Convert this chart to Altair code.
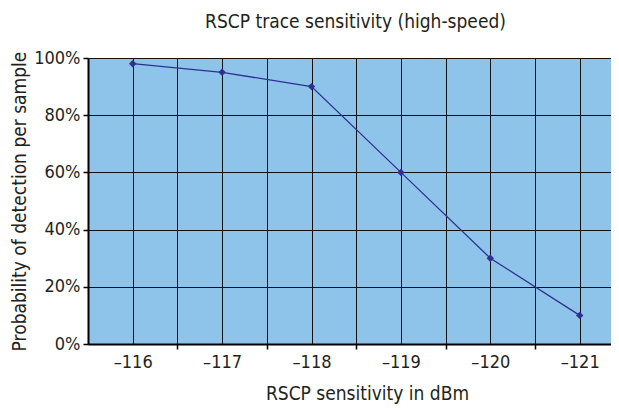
import altair as alt
import pandas as pd

sensitivity = [-116, -117, -118, -119, -120, -121]
probability = [0.98, 0.95, 0.90, 0.60, 0.30, 0.10]
x_grid_values = [-116, -116.5, -117, -117.5, -118, -118.5, -119, -119.5, -120, -120.5, -121]
y_tick_values = [0, 0.2, 0.4, 0.6, 0.8, 1.0]

df = pd.DataFrame({"dBm": sensitivity, "p": probability})

FONT = "DejaVu Sans Condensed, Liberation Sans Narrow, Liberation Sans, sans-serif"
TEXT = "#231F20"
LINE = "#2E3192"

x = alt.X(
    "dBm:Q",
    scale=alt.Scale(domain=[-121.35, -115.5], reverse=True, nice=False, zero=False),
    axis=alt.Axis(
        values=x_grid_values,
        labelExpr="datum.value % 1 == 0 ? '\u2013' + abs(datum.value) : ''",
        tickOpacity={"condition": {"test": "datum.value % 1 != 0", "value": 1}, "value": 0},
        tickSize=5,
        tickColor="black",
        tickWidth=1.5,
        labelPadding=4,
        labelFontSize=18,
        labelFont=FONT,
        labelColor=TEXT,
        labelFlush=False,
        title="RSCP sensitivity in dBm",
        titleFontSize=19,
        titleFont=FONT,
        titleFontWeight="normal",
        titleColor=TEXT,
        titlePadding=13,
        titleX=279,
        grid=True,
        gridColor="#111111",
        gridWidth=1,
        domainColor="black",
        domainWidth=2,
    ),
)

y = alt.Y(
    "p:Q",
    scale=alt.Scale(domain=[0, 1], nice=False),
    axis=alt.Axis(
        values=y_tick_values,
        format=".0%",
        tickSize=5,
        tickColor="black",
        tickWidth=1.5,
        labelPadding=3,
        labelFontSize=18,
        labelFont=FONT,
        labelColor=TEXT,
        title="Probability of detection per sample",
        titleFontSize=19,
        titleFont=FONT,
        titleFontWeight="normal",
        titleColor=TEXT,
        titlePadding=4,
        grid=True,
        gridColor="#111111",
        gridWidth=1,
        domainColor="black",
        domainWidth=2,
    ),
)

base = alt.Chart(df).encode(x=x, y=y)
line = base.mark_line(color=LINE, strokeWidth=1.3)
pts = base.mark_point(shape="diamond", filled=True, color=LINE, size=55, opacity=1)

chart = (
    alt.layer(line, pts)
    .properties(
        width=523,
        height=286,
        autosize=alt.AutoSizeParams(type="none"),
        padding={"left": 80, "right": 0, "top": 50, "bottom": 60},
        title=alt.TitleParams(
            "RSCP trace sensitivity (high-speed)",
            fontSize=19,
            font=FONT,
            fontWeight="normal",
            color=TEXT,
            frame="group",
            dx=6,
            offset=17,
        ),
        background="white",
    )
    .configure_view(fill="#8FC4EA", stroke=None)
)

chart.save("out.html", embed_options={"renderer": "svg", "actions": False})
